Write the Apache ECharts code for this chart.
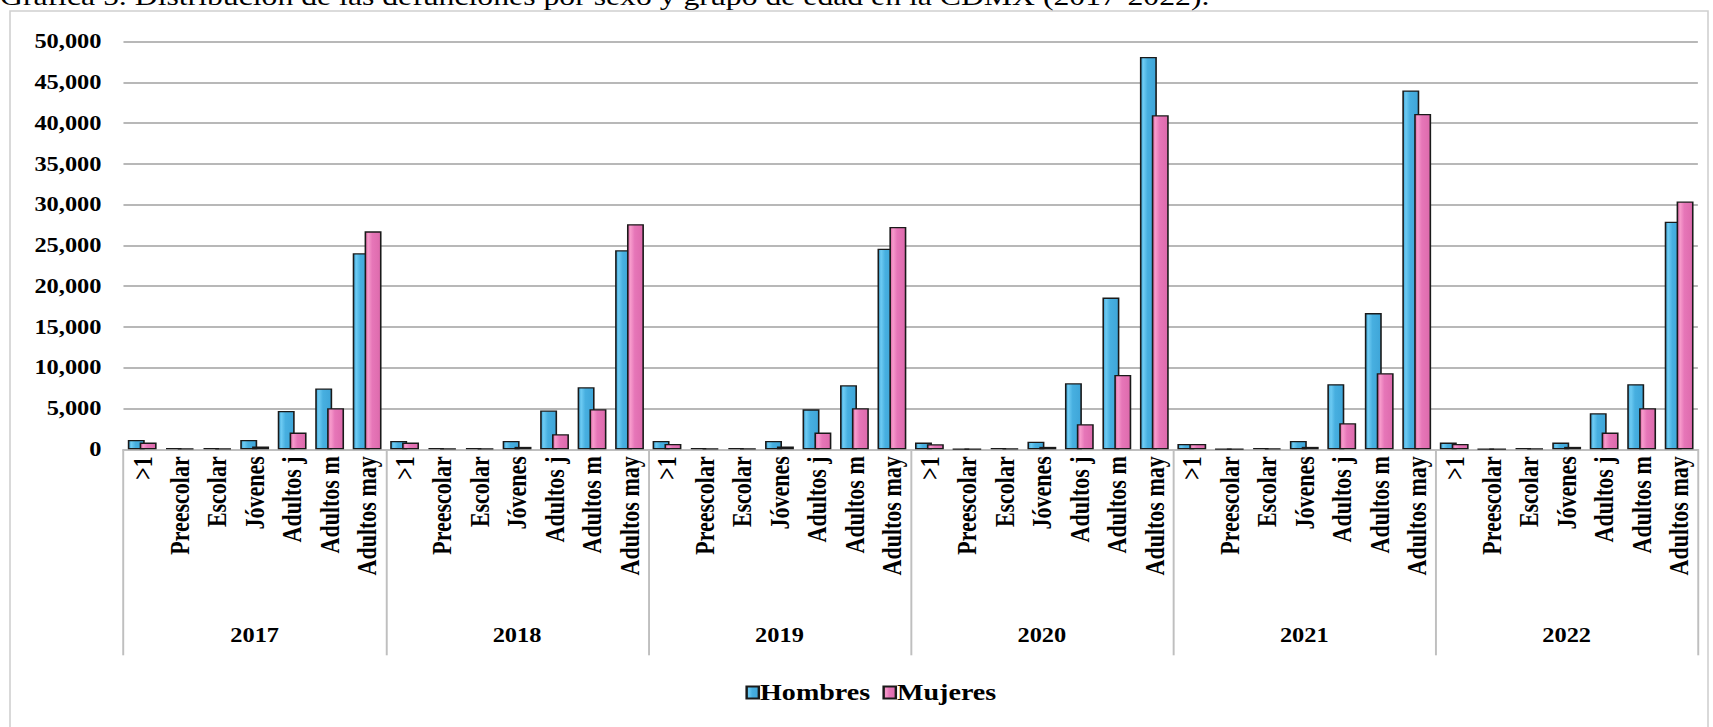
<!DOCTYPE html>
<html>
<head>
<meta charset="utf-8">
<script src="https://cdn.jsdelivr.net/npm/echarts@6/dist/echarts.min.js"></script>
<style>
  html, body { margin: 0; padding: 0; background: #ffffff; overflow: hidden; }
  #wrap { width: 1713px; height: 727px; overflow: hidden; }
  /* the reference chart is rendered horizontally stretched; reproduce that stretch */
  #chart { width: 1404px; height: 727px; transform: scaleX(1.22); transform-origin: 0 0; }
</style>
</head>
<body>
<div id="wrap"><div id="chart"></div></div>
<script>
// ---- Data ----
const titleText = 'Gráfica 5. Distribución de las defunciones por sexo y grupo de edad en la CDMX (2017-2022).';
const groups = ['>1', 'Preescolar', 'Escolar', 'Jóvenes', 'Adultos j', 'Adultos m', 'Adultos may'];
const years = ['2017', '2018', '2019', '2020', '2021', '2022'];
const seriesNames = ['Hombres', 'Mujeres'];
// values per year, in the order of `groups`
const hombres = [
  1150, 150, 150, 1150, 4700, 7450, 24040,   // 2017
  1020, 150, 150, 1020, 4750, 7600, 24400,   // 2018
  1020, 150, 150, 1020, 4900, 7850, 24600,   // 2019
  820,  30,  150, 940,  8100, 18600, 48100,  // 2020
  650,  30,  150, 1020, 7980, 16700, 44000,  // 2021
  820,  30,  150, 820,  4420, 7980, 27900    // 2022
];
const mujeres = [
  820, 120, 120, 330, 2050, 5030, 26720,     // 2017
  820, 120, 120, 300, 1840, 4910, 27600,     // 2018
  650, 120, 120, 330, 2050, 5030, 27250,     // 2019
  610, 20,  120, 300, 3070, 9120, 40950,     // 2020
  650, 20,  120, 300, 3190, 9330, 41120,     // 2021
  650, 20,  120, 300, 2050, 5030, 30380      // 2022
];
const yTicks = { min: 0, max: 50000, interval: 5000 };

// ---- Build ----
const categories = [];
years.forEach(y => groups.forEach(g => categories.push(g)));

const serif = '"Liberation Serif", "Times New Roman", serif';
const chart = echarts.init(document.getElementById('chart'), null, { renderer: 'svg' });

const blueFill = new echarts.graphic.LinearGradient(0, 0, 1, 0, [
  { offset: 0, color: '#3da3d6' },
  { offset: 0.18, color: '#6dcbf3' },
  { offset: 0.45, color: '#47afe0' },
  { offset: 1, color: '#3ea5d8' }
]);
const pinkFill = new echarts.graphic.LinearGradient(0, 0, 1, 0, [
  { offset: 0, color: '#d9629f' },
  { offset: 0.18, color: '#f79bcc' },
  { offset: 0.45, color: '#e676b8' },
  { offset: 1, color: '#dd6aac' }
]);

const option = {
  backgroundColor: '#ffffff',
  animation: false,
  graphic: [
    {
      type: 'rect',
      shape: { x: 8.2, y: 11, width: 1391.8, height: 740 },
      style: { fill: 'none', stroke: '#d0d0d0', lineWidth: 1.3 },
      z: 0
    },
    {
      type: 'text',
      left: 0, top: -17,
      style: { text: titleText, font: '26px ' + serif, fill: '#000' },
      z: 10
    }
  ],
  grid: { left: 101.2, right: 12.3, top: 41.5, bottom: 277.7, containLabel: false },
  legend: {
    data: seriesNames,
    left: 606, top: 676,
    icon: 'rect', itemWidth: 10, itemHeight: 12, itemGap: 10,
    textStyle: { fontFamily: serif, fontWeight: 'bold', fontSize: 23, color: '#000', padding: [0, 0, 0, -4] }
  },
  xAxis: [
    {
      type: 'category', data: categories, position: 'bottom',
      axisLine: { lineStyle: { color: '#bfbfbf', width: 2 } },
      axisTick: { show: false },
      axisLabel: {
        interval: 0, rotate: 90, margin: 7,
        fontFamily: serif, fontWeight: 'bold', fontSize: 22, color: '#000'
      },
      splitLine: { show: false }
    },
    {
      type: 'category', data: years, position: 'bottom',
      axisLine: { show: false },
      axisTick: { show: true, alignWithLabel: false, interval: 0, length: 206, lineStyle: { color: '#bfbfbf', width: 1.6 } },
      axisLabel: { interval: 0, margin: 176, fontFamily: serif, fontWeight: 'bold', fontSize: 20, color: '#000' },
      splitLine: { show: false }
    }
  ],
  yAxis: {
    type: 'value', min: yTicks.min, max: yTicks.max, interval: yTicks.interval,
    axisLine: { show: false }, axisTick: { show: false },
    axisLabel: {
      margin: 18, fontFamily: serif, fontWeight: 'bold', fontSize: 20, color: '#000',
      formatter: v => v.toLocaleString('en-US')
    },
    splitLine: { lineStyle: { color: '#b8b8b8', width: 2 } }
  },
  series: [
    {
      name: seriesNames[0], type: 'bar', xAxisIndex: 0, data: hombres,
      barWidth: 13.9, barGap: '-30%',
      itemStyle: { color: blueFill, borderColor: '#1a1a1a', borderWidth: 1.3 }
    },
    {
      name: seriesNames[1], type: 'bar', xAxisIndex: 0, data: mujeres,
      barWidth: 13.9, barGap: '-30%',
      itemStyle: { color: pinkFill, borderColor: '#1a1a1a', borderWidth: 1.3 }
    }
  ]
};
chart.setOption(option);
</script>
</body>
</html>
